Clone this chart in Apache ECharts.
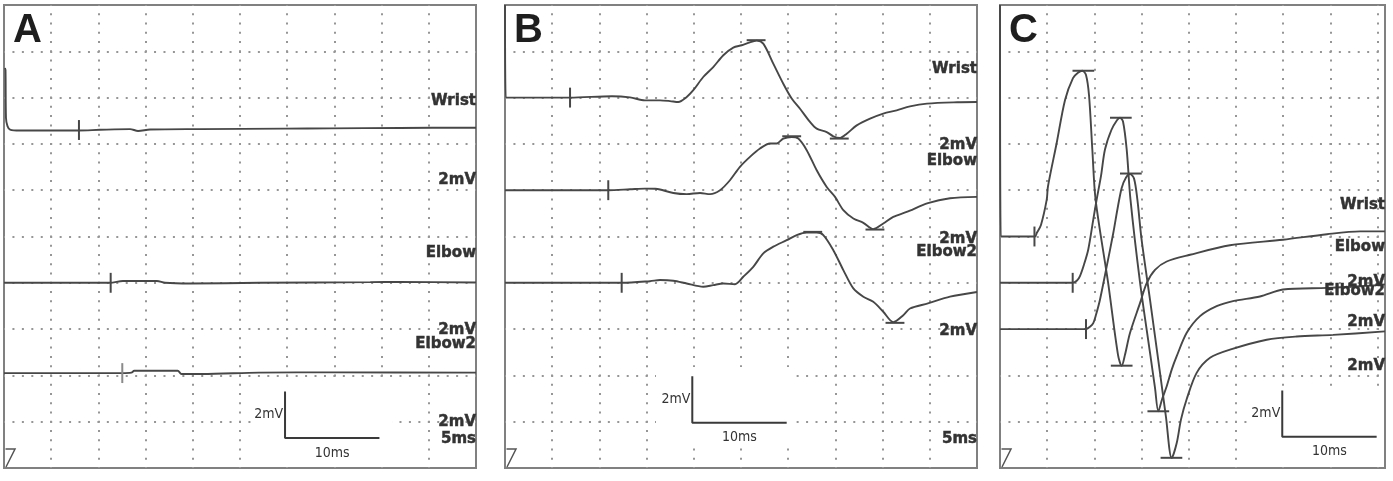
<!DOCTYPE html>
<html>
<head>
<meta charset="utf-8">
<script src="https://cdn.jsdelivr.net/npm/echarts@6/dist/echarts.min.js"></script>
<style>
  html, body { margin: 0; padding: 0; background: #fff; }
  #main { width: 1393px; height: 481px; }
</style>
</head>
<body>
<div id="main"></div>
<script>
// traces: [time ms, mV above the trace baseline]
const aWrist = [[0.1, 2.68], [0.16, 2.59], [0.21, 0.52], [0.37, 0.17], [0.64, 0.02], [1.69, -0.02], [7.94, -0.02], [10.17, 0.01],
  [13.35, 0.04], [14.2, -0.04], [15.47, 0.02], [20.76, 0.04], [29.77, 0.06], [34.5, 0.07], [41.9, 0.09], [50, 0.1]];
const aElbow = [[0, 0], [11.23, 0], [12.6, 0.08], [16.2, 0.08], [17.06, 0], [19.7, -0.03], [27.1, 0], [38.8, 0.03], [41.9, 0.04], [50, 0.01]];
const aElbow2 = [[0, 0], [12.5, 0], [13.5, 0.02], [13.8, 0.1], [18.4, 0.1], [18.8, -0.04], [21, -0.04], [27, 0.02], [35, 0.03], [50, 0.02]];

const bWrist = [[0, 4.0], [0.08, 0], [6.89, 0], [11.33, 0.06], [13.24, 0.01], [14.83, -0.12], [16.42, -0.12], [17.48, -0.15],
  [18.36, -0.19], [19.25, 0.03], [19.95, 0.32], [21.0, 0.89], [22.06, 1.32], [23.13, 1.83], [24.18, 2.16], [25.07, 2.26],
  [25.77, 2.36], [26.66, 2.46], [27.36, 2.33], [28.42, 1.47], [29.48, 0.6], [30.37, -0.04], [31.25, -0.48], [32.31, -1.05],
  [33.02, -1.34], [34.08, -1.49], [34.78, -1.67], [35.49, -1.74], [36.2, -1.56], [37.26, -1.2], [38.67, -0.91], [40.07, -0.69],
  [41.49, -0.55], [42.9, -0.38], [44.7, -0.26], [47.9, -0.2], [50, -0.19]];
const bElbow = [[0, 0], [10.9, 0], [13.24, 0.04], [14.83, 0.07], [15.9, 0.06], [16.42, 0.03], [17.83, -0.12], [19.25, -0.17],
  [20.66, -0.12], [21.72, -0.17], [22.78, 0], [23.83, 0.43], [24.89, 1.01], [25.95, 1.44], [27.01, 1.8], [28.07, 2.02],
  [28.78, 2.02], [29.48, 2.23], [30.37, 2.3], [31.07, 2.23], [31.96, 1.73], [33.02, 0.86], [34.08, 0.14], [34.96, -0.29],
  [35.84, -0.86], [36.9, -1.22], [37.96, -1.41], [39.01, -1.68], [40.07, -1.44], [41.13, -1.15], [42.55, -0.94],
  [44.8, -0.56], [47.14, -0.35], [50, -0.29]];
const bElbow2 = [[0, 0], [12.39, 0], [15.36, 0.07], [16.42, 0.12], [17.83, 0.09], [19.25, -0.03], [21.0, -0.17], [22.06, -0.1],
  [23.13, -0.03], [24.36, -0.06], [25.24, 0.26], [26.3, 0.69], [27.36, 1.27], [28.42, 1.56], [29.84, 1.84], [30.9, 2.06],
  [31.96, 2.17], [33.02, 2.17], [33.72, 2.06], [34.78, 1.41], [35.84, 0.55], [36.9, -0.24], [37.96, -0.6], [39.01, -0.82],
  [40.07, -1.25], [41.13, -1.7], [42.19, -1.4], [42.9, -1.11], [44.8, -0.89], [47.14, -0.6], [50, -0.4]];

const cWrist = [[0, 10], [0.08, 0], [3.71, 0], [3.89, 0.15], [4.34, 0.5], [4.95, 1.59], [5.08, 2.16], [6.0, 4.03], [6.89, 5.9],
  [7.73, 6.84], [8.26, 7.07], [8.72, 7.16], [9.11, 6.98], [9.43, 6.1], [9.78, 3.76], [10.13, 1.58], [11.44, -1.96],
  [12.5, -5.11], [12.89, -5.59], [13.24, -5.11], [13.77, -4.17], [14.83, -2.88], [15.54, -2.01], [16.42, -1.44],
  [17.66, -1.08], [20.13, -0.79], [24.36, -0.38], [29.98, -0.14], [34.64, 0.1], [38.14, 0.22], [40.78, 0.22]];
const cElbow = [[0, 0], [7.7, 0], [8.16, 0.1], [8.47, 0.29], [8.9, 0.79], [9.35, 1.44], [9.88, 2.73], [10.24, 3.6], [10.7, 4.62],
  [11.12, 5.76], [11.8, 6.6], [12.39, 7.02], [12.71, 7.13], [13.03, 6.97], [13.42, 5.76], [13.82, 3.6], [14.83, 0.03],
  [15.89, -3.02], [16.42, -4.54], [16.77, -5.55], [17.16, -5.04], [17.66, -4.47], [18.19, -3.75], [18.72, -3.17],
  [19.78, -2.16], [21.19, -1.44], [22.95, -1.01], [24.68, -0.79], [27.54, -0.59], [29.98, -0.29], [34.64, -0.22],
  [38.14, -0.15], [40.78, -0.07]];
const cElbow2 = [[0, 0], [9.11, 0], [9.53, 0.1], [9.88, 0.26], [10.17, 0.62], [10.59, 1.27], [11.3, 2.7], [12.0, 4.15],
  [12.45, 5.2], [12.89, 6.1], [13.35, 6.55], [13.77, 6.7], [14.2, 6.5], [14.55, 5.6], [15.0, 3.86], [15.89, 1.27],
  [16.95, -1.89], [17.58, -3.79], [18.19, -5.57], [18.72, -4.92], [19.17, -3.91], [19.78, -3.02], [20.83, -1.89],
  [22.25, -1.24], [24.36, -0.89], [28.25, -0.46], [31.43, -0.32], [35.28, -0.25], [40.78, -0.1]];

// baselines (mV on the screen) for Wrist, Elbow, Elbow2
const aBaselines = [14.6, 8.0, 4.1];
const bBaselines = [16, 12, 8];
const cBaselines = [10, 8, 6];

// latency markers
const aOnsets = [7.94, 11.3, 12.53];
const bOnsets = [6.89, 10.94, 12.36];
const cOnsets = [3.65, 7.7, 9.11];
const bPeaks = [[26.6, 2.48], [30.37, 2.33], [32.6, 2.2]];
const bTroughs = [[35.41, -1.77], [39.19, -1.7], [41.31, -1.73]];
const cPeaks = [[8.83, 7.16], [12.8, 7.13], [13.86, 6.72]];
const cTroughs = [[12.89, -5.58], [16.77, -5.55], [18.16, -5.56]];

const aLabels = ['Wrist', '2mV', 'Elbow', '2mV', 'Elbow2', '2mV', '5ms'];
const bLabels = ['Wrist', '2mV', 'Elbow', '2mV', 'Elbow2', '2mV', '5ms'];
const cLabels = ['Wrist', 'Elbow', '2mV', 'Elbow2', '2mV', '2mV'];

const scaleMv = 2;
const scaleMs = 10;

const chart = echarts.init(document.getElementById('main'));

const TOP = 5, H = 463, YMAX = 20;
const panels = [
  { letter: 'A', left: 4, width: 472, xMax: 50, traces: [aWrist, aElbow, aElbow2], base: aBaselines, onsets: aOnsets,
    peaks: [], troughs: [], peakHalf: 1, labels: aLabels, labelY: [101, 180.5, 253, 330.5, 344, 422, 439],
    bar: [29.77, 1.3], white: [252, 382, 140, 81] },
  { letter: 'B', left: 505, width: 472, xMax: 50, traces: [bWrist, bElbow, bElbow2], base: bBaselines, onsets: bOnsets,
    peaks: bPeaks, troughs: bTroughs, peakHalf: 1, labels: bLabels, labelY: [69, 145, 161, 239, 252.5, 331, 439],
    bar: [19.84, 1.96], white: [656, 367, 139, 79] },
  { letter: 'C', left: 1000, width: 385, xMax: 50 * 385 / 472, traces: [cWrist, cElbow, cElbow2], base: cBaselines, onsets: cOnsets,
    peaks: cPeaks, troughs: cTroughs, peakHalf: 1.15, labels: cLabels, labelY: [205, 247.5, 282, 291, 322.5, 366.5],
    bar: [29.9, 1.35], white: [1248, 387, 132, 76] }
];

function px(p, t) { return p.left + t * p.width / p.xMax; }
function py(v) { return TOP + (YMAX - v) * H / YMAX; }

const traceColor = '#474747';
const grids = [], xAxes = [], yAxes = [], series = [], graphics = [];

function seg(i, pts, w, color) {
  series.push({
    type: 'line', xAxisIndex: i, yAxisIndex: i, data: pts, showSymbol: false, symbol: 'none',
    lineStyle: { color: color || traceColor, width: w || 2 }, silent: true, z: 3
  });
}

panels.forEach((p, i) => {
  grids.push({ left: p.left, top: TOP, width: p.width, height: H, show: true,
    borderColor: '#808080', borderWidth: 2, backgroundColor: '#fff' });
  xAxes.push({ gridIndex: i, type: 'value', min: 0, max: p.xMax, interval: 5,
    axisLine: { show: false }, axisTick: { show: false }, axisLabel: { show: false },
    splitLine: { show: true, showMinLine: false, showMaxLine: false,
      lineStyle: { color: '#969696', width: 2, type: [2, 7.26], dashOffset: 1 } } });
  yAxes.push({ gridIndex: i, type: 'value', min: 0, max: YMAX, interval: 2,
    axisLine: { show: false }, axisTick: { show: false }, axisLabel: { show: false },
    splitLine: { show: true, showMinLine: false, showMaxLine: false,
      lineStyle: { color: '#969696', width: 2, type: [2, 7.44], dashOffset: 1 } } });

  p.traces.forEach((tr, k) => {
    const b = p.base[k];
    series.push({
      type: 'line', xAxisIndex: i, yAxisIndex: i, showSymbol: false, symbol: 'none',
      smooth: 0.3, silent: true, z: 3,
      lineStyle: { color: traceColor, width: 1.9 },
      data: tr.map(d => [d[0], b + d[1]])
    });
    const t = p.onsets[k];
    seg(i, [[t, b + 0.43], [t, b - 0.43]], 2, i === 0 && k === 2 ? '#8a8a8a' : traceColor);
  });
  p.peaks.concat(p.troughs).forEach((m, j) => {
    const b = p.base[j % 3];
    seg(i, [[m[0] - p.peakHalf, b + m[1]], [m[0] + p.peakHalf, b + m[1]]], 2);
  });

  // calibration bar
  const [t0, v0] = p.bar;
  seg(i, [[t0, v0 + scaleMv], [t0, v0], [t0 + scaleMs, v0]], 2, '#3a3a3a');

  const w = p.white;
  graphics.push({ type: 'rect', shape: { x: w[0], y: w[1], width: w[2], height: w[3] },
    style: { fill: '#fff' }, z: 1, silent: true });
  graphics.push({ type: 'text', x: px(p, t0) - 2, y: (py(v0) + py(v0 + scaleMv)) / 2, z: 5,
    style: { text: scaleMv + 'mV', fill: '#333', font: '14px "DejaVu Sans Condensed", "DejaVu Sans", sans-serif',
      align: 'right', verticalAlign: 'middle' } });
  graphics.push({ type: 'text', x: (px(p, t0) + px(p, t0 + scaleMs)) / 2, y: py(v0) + 15, z: 5,
    style: { text: scaleMs + 'ms', fill: '#333', font: '14px "DejaVu Sans Condensed", "DejaVu Sans", sans-serif',
      align: 'center', verticalAlign: 'middle' } });

  // trace labels at the right edge
  p.labels.forEach((txt, j) => {
    graphics.push({ type: 'text', x: p.left + p.width, y: p.labelY[j], z: 6,
      style: { text: txt, fill: '#333', font: 'bold 15px "DejaVu Sans", sans-serif',
        stroke: '#3a3a3a', lineWidth: 0.5,
        align: 'right', verticalAlign: 'middle' } });
  });

  // panel letter
  graphics.push({ type: 'text', x: p.left + 9, y: 31, z: 6,
    style: { text: p.letter, fill: '#1e1e1e', font: 'bold 40px "Liberation Sans", Arial, sans-serif',
      align: 'left', verticalAlign: 'middle' } });

  // sweep trigger glyph
  graphics.push({ type: 'polyline', z: 6, silent: true,
    shape: { points: [[p.left + 1.5, 449], [p.left + 11, 449], [p.left + 2, 467]] },
    style: { stroke: '#555', lineWidth: 1.5, fill: null } });
});

chart.setOption({
  animation: false,
  grid: grids,
  xAxis: xAxes,
  yAxis: yAxes,
  series: series,
  graphic: { elements: graphics }
});
</script>
</body>
</html>
